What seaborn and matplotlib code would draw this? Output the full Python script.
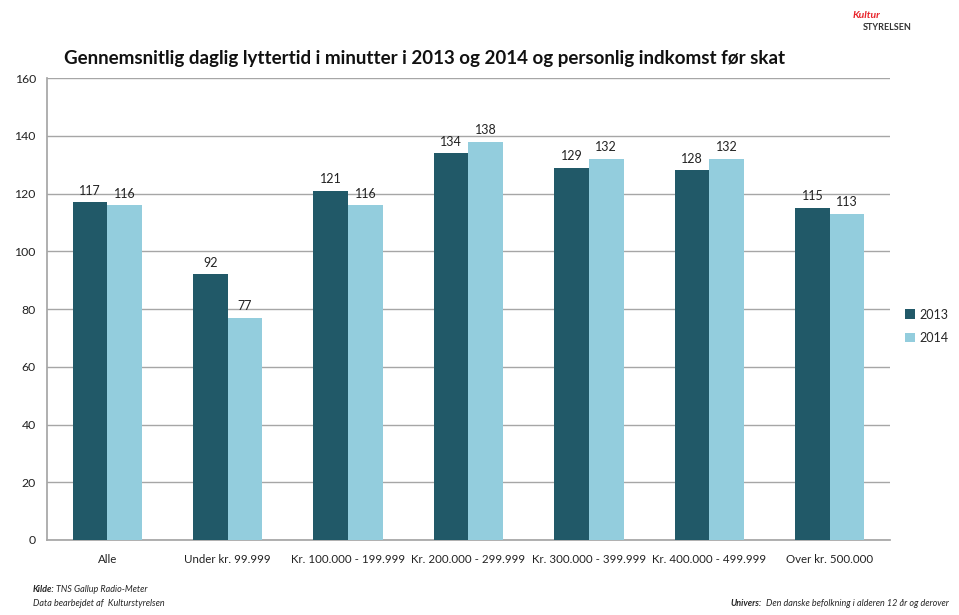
import pandas as pd
import numpy as np
import matplotlib
matplotlib.use("Agg")
import matplotlib.pyplot as plt
import seaborn as sns

# data
categories = ['Alle', 'Under kr. 99.999', 'Kr. 100.000 - 199.999', 'Kr. 200.000 - 299.999',
              'Kr. 300.000 - 399.999', 'Kr. 400.000 - 499.999', 'Over kr. 500.000']
years = ['2013', '2014']
values_2013 = [117, 92, 121, 134, 129, 128, 115]
values_2014 = [116, 77, 116, 138, 132, 132, 113]
y_ticks = [0, 20, 40, 60, 80, 100, 120, 140, 160]

df = pd.DataFrame({
    'kategori': categories * 2,
    'aar': [years[0]] * len(categories) + [years[1]] * len(categories),
    'minutter': values_2013 + values_2014,
})

sns.set_theme(style='white')
plt.rcParams['font.family'] = ['Lato', 'DejaVu Sans']

fig = plt.figure(figsize=(9.59, 6.15), dpi=100)
ax = fig.add_axes([0.049, 0.122, 0.879, 0.751])

palette = {'2013': '#215968', '2014': '#93CDDD'}
sns.barplot(data=df, x='kategori', y='minutter', hue='aar', palette=palette,
            width=0.575, gap=0, saturation=1, linewidth=0, ax=ax, zorder=3)

for cont in ax.containers:
    ax.bar_label(cont, fmt='%d', padding=4, fontsize=9, color='#222222')

ax.set_ylim(0, 160)
ax.set_yticks(y_ticks)
ax.set_xlim(-0.5, len(categories) - 0.5)
ax.yaxis.grid(True, color='#a6a6a6', linewidth=1, zorder=0)
ax.set_axisbelow(True)
for side in ['top', 'right']:
    ax.spines[side].set_visible(False)
ax.spines['left'].set_color('#a6a6a6')
ax.spines['bottom'].set_color('#a6a6a6')
ax.tick_params(axis='both', length=0, colors='#222222')
ax.tick_params(axis='x', pad=10, labelsize=8.3)
ax.tick_params(axis='y', pad=8, labelsize=8.8)
ax.set_xlabel('')
ax.set_ylabel('')

ax.set_title('Gennemsnitlig daglig lyttertid i minutter i 2013 og 2014 og personlig indkomst før skat',
             fontsize=13.5, fontweight='bold', loc='left', x=0.02, pad=10, color='#111111')

ax.legend(loc='center left', bbox_to_anchor=(1.005, 0.463), frameon=False,
          fontsize=9, handlelength=0.8, handleheight=0.8, handletextpad=0.3,
          labelspacing=0.9)

# footer notes
fig.canvas.draw()
rend = fig.canvas.get_renderer()
kilde = fig.text(0.034, 0.041, 'Kilde:', fontsize=6.5, style='italic', fontweight='bold', va='center')
x_end = kilde.get_window_extent(rend).x1 / fig.bbox.width
fig.text(x_end + 0.002, 0.041, 'TNS Gallup Radio-Meter', fontsize=6.5, style='italic', va='center')
fig.text(0.034, 0.019, 'Data bearbejdet af  Kulturstyrelsen', fontsize=6.5, style='italic', va='center')
univ_txt = fig.text(0.989, 0.019, 'Den danske befolkning i alderen 12 år og derover',
                    fontsize=6.5, style='italic', va='center', ha='right')
x_start = univ_txt.get_window_extent(rend).x0 / fig.bbox.width
fig.text(x_start - 0.004, 0.019, 'Univers:', fontsize=6.5, style='italic', fontweight='bold',
         ha='right', va='center')

# logo
fig.text(0.918, 0.975, 'Kultur', fontsize=7.5, color='#e8232a', style='italic', fontweight='bold',
         ha='right', va='center')
fig.text(0.951, 0.955, 'STYRELSEN', fontsize=6.5, color='#333333', fontweight='bold',
         ha='right', va='center')

fig.savefig('out.png', dpi=100)
